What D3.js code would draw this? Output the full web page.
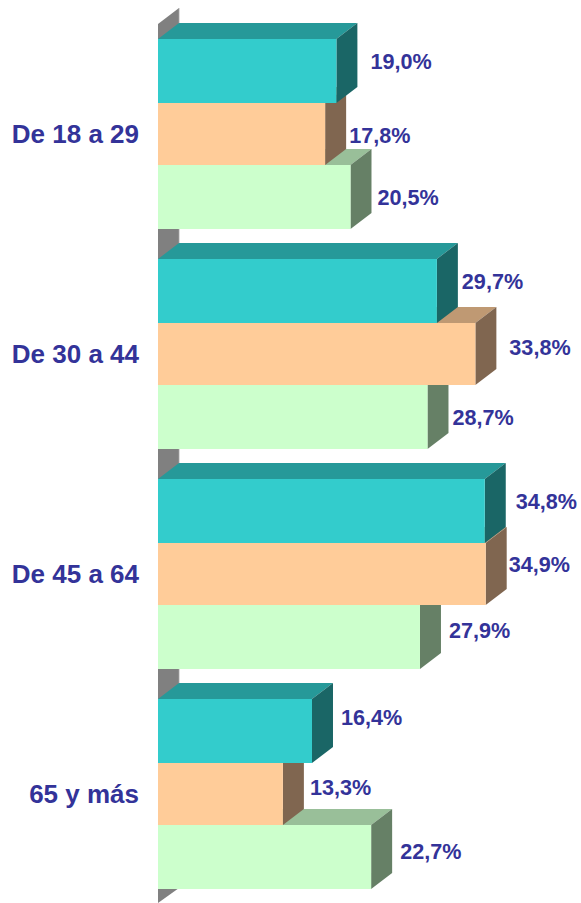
<!DOCTYPE html>
<html><head><meta charset="utf-8">
<script src="https://cdn.jsdelivr.net/npm/d3@7"></script>
<style>html,body{margin:0;padding:0;background:#fff}svg{display:block}</style>
</head><body><svg id="c" width="581" height="903"></svg>
<script>
const categories = ["De 18 a 29","De 30 a 44","De 45 a 64","65 y más"];
const seriesA = [19.0,29.7,34.8,16.4];
const seriesB = [17.8,33.8,34.9,13.3];
const seriesC = [20.5,28.7,27.9,22.7];
const series = [seriesA,seriesB,seriesC];
const seriesKeys = ["a","b","c"];
const front = ["#33CCCC","#FFCC99","#CCFFCC"];
const side = ["#1A6666","#806650","#668066"];
const top_ = ["#269999","#BF9973","#99BF99"];
// label nudges relative to the end of the bar's side face
const nudgeX = [[13,4,10,8],[3,13,2,6],[6,4,8,8]];
const nudgeY = [[-10,-10,-10,-14],[1,-7,-10,-7],[0,0,-7,-6]];
const DX=21, DY=16;
const x = d3.scaleLinear().domain([0,34.9]).range([158,485.7]);
const y0 = d3.scaleBand().domain(categories).range([39,919]).paddingInner(0).paddingOuter(0);
const y1 = d3.scaleOrdinal().domain(seriesKeys).range([0,64,126]);
const barH = d3.scaleOrdinal().domain(seriesKeys).range([64,62,64]);
const svg = d3.select("#c");
const path = d3.line();
svg.append("path").attr("fill","#808080")
  .attr("d",path([[x(0),24],[x(0)+DX,8],[x(0)+DX,888],[x(0),903]])+"Z");
svg.append("line").attr("x1",x(0)+DX+.25).attr("x2",x(0)+DX+.25).attr("y1",8).attr("y2",880)
  .attr("stroke","#c4c4c4").attr("stroke-width",.8);
const g = svg.selectAll("g.cat").data(categories).join("g").attr("class","cat")
  .attr("transform",c=>`translate(0,${y0(c)})`);
g.each(function(c,ci){
  const sel=d3.select(this);
  [2,1,0].forEach(si=>{
    const k=seriesKeys[si], v=series[si][ci], yy=y1(k), h=barH(k), X=x(v), L=x(0);
    sel.append("path").attr("fill",top_[si]).attr("d",path([[L,yy],[L+DX,yy-DY],[X+DX,yy-DY],[X,yy]])+"Z");
    sel.append("path").attr("fill",side[si]).attr("d",path([[X,yy],[X+DX,yy-DY],[X+DX,yy+h-DY],[X,yy+h]])+"Z");
    sel.append("rect").attr("fill",front[si]).attr("x",L).attr("y",yy).attr("width",X-L).attr("height",h);
  });
});
g.each(function(c,ci){
  const sel=d3.select(this);
  series.forEach((s,si)=>{
    const k=seriesKeys[si];
    sel.append("text").attr("x",x(s[ci])+DX+nudgeX[si][ci])
      .attr("y",y1(k)+barH(k)/2+nudgeY[si][ci]+7.5)
      .attr("font-family","'Liberation Sans',Arial,sans-serif").attr("font-weight","bold").attr("font-size",21.6)
      .attr("fill","#333399").text(s[ci].toFixed(1).replace(".",",")+"%");
  });
  sel.append("text").attr("x",139).attr("y",95+9).attr("text-anchor","end")
    .attr("font-family","'Liberation Sans',Arial,sans-serif").attr("font-weight","bold").attr("font-size",26)
    .attr("fill","#333399").text(c);
});
</script></body></html>
